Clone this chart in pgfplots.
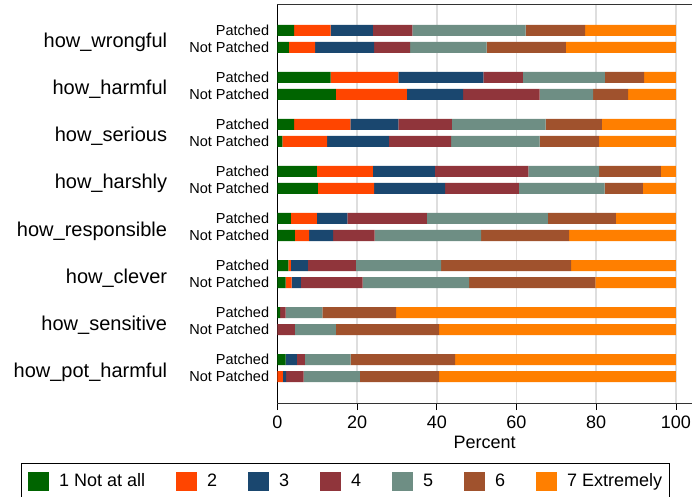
\documentclass[border=0pt]{standalone}
\usepackage{pgfplots}
\usepackage{pgfplotstable}
\pgfplotsset{compat=1.18}
\usepackage{fontspec}
\setmainfont{Liberation Sans}

\definecolor{cOne}{RGB}{0,100,0}
\definecolor{cTwo}{RGB}{255,69,0}
\definecolor{cThree}{RGB}{26,71,111}
\definecolor{cFour}{RGB}{144,53,59}
\definecolor{cFive}{RGB}{110,142,132}
\definecolor{cSix}{RGB}{160,82,45}
\definecolor{cSeven}{RGB}{255,127,0}

% y = bar position (pt from top of plot), s1..s7 = percent per answer
\pgfplotstableread{
y     s1    s2    s3    s4    s5    s6    s7
30.5  4.2   9.2   10.6  9.9   28.4  14.9  22.8
47.5  2.9   6.6   14.8  9.0   19.2  19.9  27.6
77.5  13.4  17.0  21.3  9.9   20.6  9.8   8.0
94.5  14.7  17.8  14.1  19.2  13.4  8.8   12.0
124.5 4.2   14.1  12.1  13.4  23.5  14.1  18.6
141.5 1.3   11.2  15.5  15.6  22.2  14.9  19.3
171.5 9.9   14.1  15.5  23.5  17.7  15.5  3.8
188.5 10.2  14.1  17.8  18.5  21.5  9.6   8.3
218.5 3.4   6.5   7.7   19.9  30.4  17.0  15.1
235.5 4.4   3.6   6.0   10.4  26.7  22.1  26.8
265.5 2.8   0.6   4.3   12.0  21.4  32.6  26.3
282.5 2.1   1.5   2.3   15.5  26.7  31.7  20.2
312.5 0.7   0     0     1.4   9.2   18.5  70.2
329.5 0     0     0     4.4   10.3  25.9  59.4
359.5 2.1   0     2.8   2.0   11.5  26.2  55.4
376.5 0     1.4   0.8   4.4   14.1  19.9  59.4
}\datatable

\begin{document}
\begin{tikzpicture}
\begin{axis}[
    at={(277.3pt,94pt)}, anchor=south west,
    scale only axis,
    width=414.6pt, height=398pt,
    xbar stacked,
    bar width=11,
    xmin=0, xmax=104,
    ymin=5, ymax=403,
    y dir=reverse,
    clip=false,
    axis x line*=box,
    axis y line*=left,
    x axis line style={draw=black!80, line width=1pt},
    y axis line style={draw=black, line width=0.8pt},
    xtick={0,20,...,100},
    xtick pos=bottom,
    tick align=outside,
    xtick style={black, line width=0.8pt},
    major tick length=7pt,
    xmajorgrids,
    grid style={draw=black!13, line width=1.5pt},
    /pgf/number format/assume math mode=true,
    xticklabel style={font=\fontsize{18}{21}\selectfont, inner sep=0pt, yshift=-6pt},
    xlabel={Percent},
    xlabel style={font=\fontsize{18}{21}\selectfont, inner sep=0pt,
        at={(axis description cs:0.5,0)}, anchor=north, yshift=-33pt},
    ytick={30.5,47.5,77.5,94.5,124.5,141.5,171.5,188.5,218.5,235.5,265.5,282.5,312.5,329.5,359.5,376.5},
    yticklabels={Patched,Not Patched,Patched,Not Patched,Patched,Not Patched,Patched,Not Patched,
                 Patched,Not Patched,Patched,Not Patched,Patched,Not Patched,Patched,Not Patched},
    ytick style={draw=none},
    yticklabel style={font=\fontsize{14.5}{16}\selectfont, inner sep=0pt, xshift=-1pt},
    legend columns=7,
    legend image code/.code={\fill[#1] (0pt,-9.5pt) rectangle (21pt,9.5pt);},
    legend style={
        at={(0,0)}, anchor=north west, xshift=-256.6pt, yshift=-60.3pt,
        draw=black, line width=0.8pt, fill=white,
        inner xsep=7pt, inner ysep=8pt,
        font=\fontsize{18}{21}\selectfont,
        nodes={inner sep=0pt},
        /tikz/every odd column/.style={column sep=10pt},
        /tikz/every even column/.style={column sep=31pt},
    },
]
\addplot[fill=cOne, draw=none] table[x=s1, y=y] {\datatable};
\addplot[fill=cTwo, draw=none] table[x=s2, y=y] {\datatable};
\addplot[fill=cThree, draw=none] table[x=s3, y=y] {\datatable};
\addplot[fill=cFour, draw=none] table[x=s4, y=y] {\datatable};
\addplot[fill=cFive, draw=none] table[x=s5, y=y] {\datatable};
\addplot[fill=cSix, draw=none] table[x=s6, y=y] {\datatable};
\addplot[fill=cSeven, draw=none] table[x=s7, y=y] {\datatable};
\legend{1 Not at all, 2, 3, 4, 5, 6, 7 Extremely}

% group labels
\node[anchor=base east, inner sep=0pt, xshift=-110pt, font=\fontsize{20}{24}\selectfont] at (axis cs:0,48)  {how\_wrongful};
\node[anchor=base east, inner sep=0pt, xshift=-110pt, font=\fontsize{20}{24}\selectfont] at (axis cs:0,95)  {how\_harmful};
\node[anchor=base east, inner sep=0pt, xshift=-110pt, font=\fontsize{20}{24}\selectfont] at (axis cs:0,142) {how\_serious};
\node[anchor=base east, inner sep=0pt, xshift=-110pt, font=\fontsize{20}{24}\selectfont] at (axis cs:0,189) {how\_harshly};
\node[anchor=base east, inner sep=0pt, xshift=-110pt, font=\fontsize{20}{24}\selectfont] at (axis cs:0,236) {how\_responsible};
\node[anchor=base east, inner sep=0pt, xshift=-110pt, font=\fontsize{20}{24}\selectfont] at (axis cs:0,283) {how\_clever};
\node[anchor=base east, inner sep=0pt, xshift=-110pt, font=\fontsize{20}{24}\selectfont] at (axis cs:0,330) {how\_sensitive};
\node[anchor=base east, inner sep=0pt, xshift=-110pt, font=\fontsize{20}{24}\selectfont] at (axis cs:0,377) {how\_pot\_harmful};
\end{axis}
\pgfresetboundingbox
\path[use as bounding box] (0,0) rectangle (693pt,497pt);
\end{tikzpicture}
\end{document}
